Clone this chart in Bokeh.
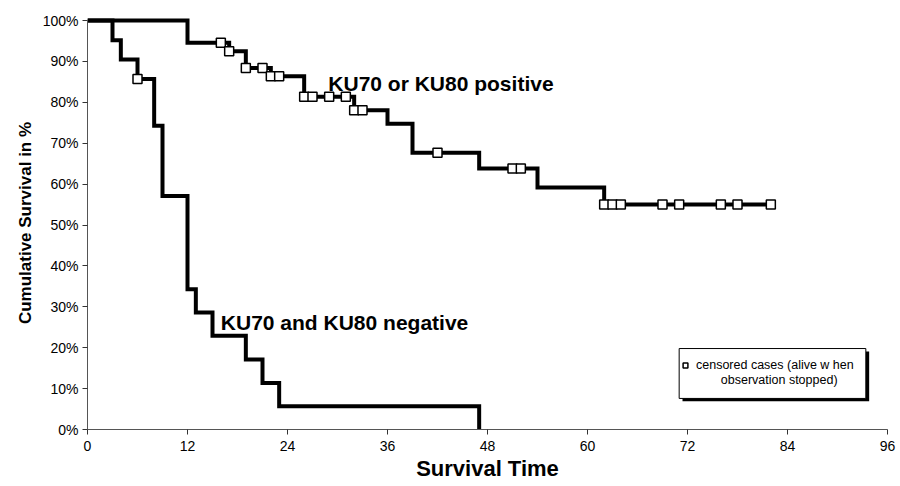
from bokeh.plotting import figure
from bokeh.models import (Range1d, FixedTicker, Label, BoxAnnotation, Legend, LegendItem)
from bokeh.embed import file_html
from bokeh.resources import INLINE

# ---------------- data ----------------
pos_time = [0, 12, 17, 19, 22, 26, 32, 36, 39, 47, 54, 62, 82]
pos_surv = [100, 94.6, 92.5, 88.4, 86.4, 81.4, 78.1, 74.8, 67.7, 63.8, 59.2, 55.0, 55.0]
pos_cens_time = [16, 17, 19, 21, 22, 23, 26, 27, 29, 31, 32, 33, 42, 51, 52,
                 62, 63, 64, 69, 71, 76, 78, 82]
pos_cens_surv = [94.6, 92.5, 88.4, 88.4, 86.4, 86.4, 81.4, 81.4, 81.4, 81.4, 78.1, 78.1,
                 67.7, 63.8, 63.8, 55.0, 55.0, 55.0, 55.0, 55.0, 55.0, 55.0, 55.0]

neg_time = [0, 3, 4, 6, 8, 9, 12, 13, 15, 19, 21, 23, 47]
neg_surv = [100, 95.2, 90.5, 85.7, 74.3, 57.1, 34.3, 28.6, 22.9, 17.1, 11.4, 5.7, 0]
neg_cens_time = [6]
neg_cens_surv = [85.7]

x_ticks = [0, 12, 24, 36, 48, 60, 72, 84, 96]
y_ticks = [0, 10, 20, 30, 40, 50, 60, 70, 80, 90, 100]
y_tick_labels = ["0%", "10%", "20%", "30%", "40%", "50%", "60%", "70%", "80%", "90%", "100%"]

label_pos = "KU70 or KU80 positive"
label_neg = "KU70 and KU80 negative"
legend_line1 = "censored cases (alive w hen"
legend_line2 = "observation stopped)"
x_title = "Survival Time"
y_title = "Cumulative Survival in %"

FONT = "Liberation Sans"

p = figure(width=900, height=486, output_backend="svg", toolbar_location=None,
           x_range=Range1d(0, 96), y_range=Range1d(0, 101),
           min_border_left=87, min_border_right=13, min_border_top=16, min_border_bottom=57)
p.outline_line_color = None
p.xgrid.visible = False
p.ygrid.visible = False
p.background_fill_color = "white"
p.border_fill_color = "white"

for ax in (p.xaxis[0], p.yaxis[0]):
    ax.axis_line_color = "#555555"
    ax.axis_line_width = 1
    ax.major_tick_line_color = "#333333"
    ax.major_tick_out = 5
    ax.major_tick_in = 0
    ax.minor_tick_line_color = None
    ax.major_label_text_font = FONT
    ax.major_label_text_font_size = "14px"
    ax.major_label_text_color = "black"
    ax.axis_label_text_font = FONT
    ax.axis_label_text_font_style = "bold"
    ax.axis_label_text_color = "black"

p.xaxis.ticker = FixedTicker(ticks=x_ticks)
p.yaxis.ticker = FixedTicker(ticks=y_ticks)
p.yaxis.bounds = (0, 100)
p.yaxis.major_label_overrides = {t: s for t, s in zip(y_ticks, y_tick_labels)}
p.xaxis.major_label_standoff = 6
p.yaxis.major_label_standoff = 4
p.xaxis.axis_label = x_title
p.xaxis.axis_label_text_font_size = "22px"
p.xaxis.axis_label_standoff = 2
p.yaxis.axis_label = y_title
p.yaxis.axis_label_text_font_size = "17px"
p.yaxis.axis_label_standoff = 5

p.step(neg_time, neg_surv, mode="after", line_color="black", line_width=4, line_join="miter")
p.step(pos_time, pos_surv, mode="after", line_color="black", line_width=4, line_join="miter")
cens = p.scatter(pos_cens_time, pos_cens_surv, marker="square", size=9,
                 fill_color="white", line_color="black", line_width=1.5)
p.scatter(neg_cens_time, neg_cens_surv, marker="square", size=9,
          fill_color="white", line_color="black", line_width=1.5)

p.add_layout(Label(x=28.9, y=84.7, text=label_pos, text_font=FONT, text_font_style="bold",
                   text_font_size="21px", text_baseline="alphabetic", text_color="black"))
p.add_layout(Label(x=16.0, y=26.2, text=label_neg, text_font=FONT, text_font_style="bold",
                   text_font_size="21px", text_baseline="alphabetic", text_color="black"))

# legend frame: shadow + white box, legend entry inside
p.add_layout(BoxAnnotation(left=71.4, right=93.8, top=19.1, bottom=6.9,
                           fill_color="black", fill_alpha=1, line_color=None))
p.add_layout(BoxAnnotation(left=71.0, right=93.4, top=19.8, bottom=7.6,
                           fill_color="white", fill_alpha=1, line_color="black",
                           line_alpha=1, line_width=1))
legend = Legend(items=[LegendItem(label=legend_line1, renderers=[cens])],
                location=(592, 57), label_text_font=FONT, label_text_font_size="12.5px",
                label_text_color="black",
                glyph_width=12, glyph_height=12, label_standoff=5, padding=4, margin=0,
                border_line_color=None, background_fill_alpha=0)
p.add_layout(legend, "center")
p.add_layout(Label(x=83.0, y=12.0, text=legend_line2, text_font=FONT, text_font_size="12.5px",
                   text_align="center", text_baseline="middle", text_color="black"))

open("out.html", "w").write(file_html(p, INLINE))
